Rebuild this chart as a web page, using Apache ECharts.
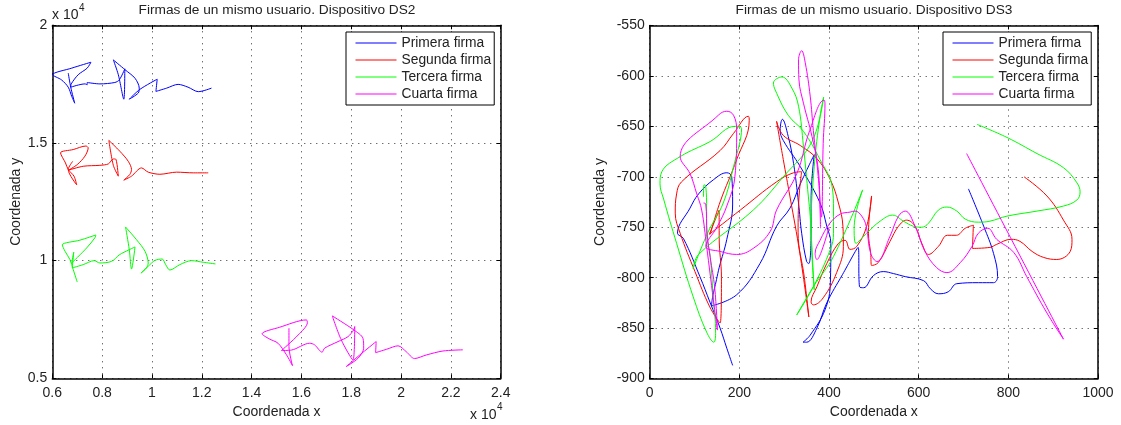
<!DOCTYPE html>
<html><head><meta charset="utf-8">
<style>html,body{margin:0;padding:0;background:#fff}#c{width:1121px;height:425px}</style>
<script src="https://cdn.jsdelivr.net/npm/echarts@6/dist/echarts.min.js"></script>
</head><body><div id="c"></div>
<script>
const seriesNames=['Primera firma','Segunda firma','Tercera firma','Cuarta firma'];
const seriesColors=['#0000ff','#ff0000','#00ff00','#ff00ff'];
const ds2Title='Firmas de un mismo usuario. Dispositivo DS2';
const ds3Title='Firmas de un mismo usuario. Dispositivo DS3';
const ds2Primera=[[.664,1.797],[.674,1.737],[.69,1.669],[.678,1.698],[.664,1.737],[.637,1.768],[.601,1.79],[.678,1.818],[.755,1.843],[.74,1.818],[.704,1.79],[.676,1.751],[.674,1.737],[.731,1.751],[.74,1.747],[.74,1.757],[.791,1.751],[.851,1.757],[.869,1.768],[.891,1.815],[.887,1.686],[.865,1.79],[.845,1.853],[.891,1.812],[.932,1.775],[.949,1.733],[.945,1.712],[.909,1.686],[.952,1.728],[1.021,1.771],[1.016,1.719],[1.059,1.733],[1.105,1.749],[1.145,1.737],[1.186,1.718],[1.239,1.733]];
const ds2Segunda=[[.682,1.422],[.664,1.387],[.698,1.322],[.687,1.359],[.664,1.387],[.653,1.415],[.633,1.458],[.684,1.472],[.735,1.487],[.744,1.479],[.731,1.444],[.70,1.408],[.664,1.384],[.724,1.401],[.791,1.405],[.825,1.411],[.845,1.432],[.854,1.432],[.865,1.359],[.845,1.405],[.827,1.511],[.871,1.465],[.905,1.422],[.918,1.387],[.911,1.366],[.887,1.342],[.918,1.359],[.958,1.394],[.985,1.376],[1.032,1.367],[1.099,1.376],[1.166,1.373],[1.226,1.373]];
const ds2Tercera=[[.70,.909],[.684,.962],[.671,1.004],[.651,1.04],[.64,1.067],[.711,1.087],[.775,1.109],[.771,1.097],[.738,1.054],[.678,.99],[.686,1.036],[.68,.969],[.724,.983],[.768,1.0],[.791,.99],[.838,.997],[.871,1.026],[.932,1.058],[.918,.964],[.909,1.047],[.894,1.143],[.938,1.089],[.972,1.04],[.985,.99],[.978,.969],[.956,.947],[.985,.976],[1.012,1.001],[1.041,1.007],[1.055,.983],[1.072,.96],[1.112,.983],[1.159,1.0],[1.206,.993],[1.255,.986]];
const ds2Cuarta=[[1.55,.713],[1.55,.635],[1.564,.554],[1.54,.6],[1.506,.649],[1.47,.668],[1.442,.689],[1.513,.717],[1.62,.748],[1.624,.737],[1.587,.684],[1.52,.618],[1.56,.62],[1.633,.649],[1.653,.642],[1.683,.611],[1.693,.628],[1.747,.656],[1.787,.677],[1.81,.706],[1.814,.72],[1.807,.578],[1.76,.663],[1.724,.765],[1.81,.706],[1.847,.67],[1.85,.628],[1.827,.585],[1.78,.55],[1.834,.599],[1.90,.656],[1.898,.609],[1.941,.623],[1.988,.638],[2.021,.613],[2.054,.584],[2.101,.599],[2.168,.616],[2.248,.621]];
const ds3Primera=[[185,-887],[172,-870],[157,-850],[135,-825],[112,-799],[75,-761],[62,-756],[90,-731],[109,-717],[142,-703],[172,-696],[183,-700],[185,-727],[172,-762],[155,-790],[149,-802],[140,-820],[138,-828],[194,-817],[246,-786],[283,-749],[313,-731],[336,-707],[367,-678],[360,-722],[360,-756],[355,-786],[350,-784],[339,-756],[332,-726],[321,-687],[309,-660],[296,-643],[291,-654],[298,-664],[336,-690],[380,-726],[395,-749],[404,-766],[403,-805],[391,-832],[358,-857],[342,-864],[350,-864],[373,-850],[395,-825],[430,-797],[465,-770],[468,-809],[477,-810],[499,-798],[521,-794],[544,-796],[570,-799],[611,-803],[626,-811],[644,-816],[666,-814],[685,-806],[733,-805],[767,-805],[776,-799],[767,-776],[745,-749],[711,-712]];
const ds3Segunda=[[835,-700],[886,-719],[923,-743],[942,-762],[938,-774],[908,-782],[879,-780],[853,-774],[826,-764],[806,-762],[774,-767],[759,-770],[720,-771],[722,-748],[704,-751],[684,-758],[664,-758],[644,-769],[622,-777],[607,-766],[592,-749],[573,-743],[555,-749],[536,-764],[510,-785],[495,-788],[493,-776],[488,-756],[495,-719],[484,-749],[462,-769],[447,-772],[436,-763],[421,-766],[395,-786],[373,-809],[360,-824],[365,-827],[387,-820],[417,-795],[432,-769],[431,-749],[421,-726],[403,-703],[373,-682],[336,-669],[298,-659],[283,-645],[298,-683],[313,-720],[335,-776],[355,-839],[345,-800],[331,-755],[333,-720],[339,-695],[321,-696],[283,-705],[202,-733],[133,-757],[155,-733],[155,-760],[160,-800],[157,-845],[134,-829],[101,-794],[68,-756],[57,-736],[60,-717],[71,-705],[157,-674],[187,-657],[220,-640],[222,-644],[194,-683],[157,-725],[135,-757]];
const ds3Tercera=[[730,-648],[797,-661],[864,-677],[923,-691],[953,-706],[960,-715],[953,-723],[923,-729],[864,-734],[797,-739],[759,-744],[733,-745],[704,-742],[685,-734],[663,-730],[644,-733],[622,-746],[607,-750],[588,-749],[566,-744],[542,-738],[514,-744],[484,-756],[460,-766],[456,-751],[475,-713],[410,-779],[365,-809],[328,-837],[365,-809],[403,-772],[410,-756],[410,-733],[407,-710],[380,-683],[343,-655],[309,-639],[280,-614],[276,-607],[295,-601],[317,-612],[332,-630],[343,-670],[354,-720],[358,-739],[364,-789],[367,-812],[360,-750],[367,-690],[380,-640],[388,-621],[362,-665],[298,-700],[231,-733],[109,-777],[97,-791],[130,-755],[164,-726],[187,-690],[205,-652],[190,-650],[135,-665],[68,-680],[27,-695],[23,-707],[31,-722],[60,-766],[97,-819],[127,-854],[143,-864],[147,-854],[142,-822],[135,-779],[127,-756],[127,-733],[125,-709],[121,-708],[120,-720]];
const ds3Cuarta=[[707,-677],[923,-861],[886,-835],[841,-799],[812,-775],[774,-762],[754,-751],[733,-756],[719,-769],[693,-785],[663,-795],[640,-790],[614,-774],[592,-749],[570,-734],[555,-739],[536,-759],[507,-784],[493,-776],[483,-749],[473,-739],[458,-734],[447,-735],[425,-737],[402,-746],[380,-763],[369,-776],[373,-782],[384,-773],[400,-750],['-','-'],[381,-751],[380,-733],[376,-693],[362,-660],[343,-627],[333,-604],[332,-584],[339,-575],[347,-587],[358,-620],[365,-654],[376,-700],[383,-740],[387,-667],[391,-627],[389,-624],[357,-654],[328,-697],[283,-733],[269,-754],[231,-771],[194,-777],[157,-774],[125,-769],[150,-750],[172,-729],[190,-700],[194,-654],[187,-639],[172,-635],[153,-639],[68,-680],[90,-697],[105,-717],[116,-733],[127,-769],[142,-822],[151,-852],[145,-810],[135,-780],[128,-756],[125,-727],[120,-726]];
const ds2Data=[ds2Primera,ds2Segunda,ds2Tercera,ds2Cuarta];
const ds3Data=[ds3Primera,ds3Segunda,ds3Tercera,ds3Cuarta];
const font='"Liberation Sans",Arial,sans-serif';
const tick={color:'#222',fontFamily:font,fontSize:14};
function mkX(gi,min,max,interval,name){return [
 {type:'value',gridIndex:gi,min,max,interval,name,nameLocation:'middle',nameGap:24,nameTextStyle:{color:'#222',fontFamily:font,fontSize:14},
  axisLine:{show:true,onZero:false,lineStyle:{color:'#000',width:1.5}},axisTick:{inside:true,length:4,lineStyle:{color:'#000',width:1}},
  axisLabel:{...tick,margin:8,showMinLabel:true,showMaxLabel:true,formatter:v=>String(+v.toFixed(2))},
  splitLine:{show:true,lineStyle:{color:'#333',width:1,type:[1,5]}}},
 {type:'value',gridIndex:gi,position:'top',min,max,interval,axisLine:{show:true,onZero:false,lineStyle:{color:'#000',width:1.5}},axisTick:{inside:true,length:4,lineStyle:{color:'#000'}},axisLabel:{show:false},splitLine:{show:false}}
];}
function mkY(gi,min,max,interval,name,gap){return [
 {type:'value',gridIndex:gi,min,max,interval,name,nameLocation:'middle',nameGap:gap,nameRotate:90,nameTextStyle:{color:'#222',fontFamily:font,fontSize:14},
  axisLine:{show:true,onZero:false,lineStyle:{color:'#000',width:1.5}},axisTick:{inside:true,length:4,lineStyle:{color:'#000'}},
  axisLabel:{...tick,margin:5,padding:[3,0,0,0],showMinLabel:true,showMaxLabel:true,formatter:v=>String(+v.toFixed(2))},
  splitLine:{show:true,lineStyle:{color:'#333',width:1,type:[1,5]}}},
 {type:'value',gridIndex:gi,position:'right',min,max,interval,axisLine:{show:true,onZero:false,lineStyle:{color:'#000',width:1.5}},axisTick:{inside:true,length:4,lineStyle:{color:'#000'}},axisLabel:{show:false},splitLine:{show:false}}
];}
function mkSeries(data,xi,yi,smooth){return data.map((d,i)=>({name:seriesNames[i],type:'line',xAxisIndex:xi,yAxisIndex:yi,data:d,showSymbol:false,symbol:'none',smooth,connectNulls:false,animation:false,clip:true,lineStyle:{color:seriesColors[i],width:1},itemStyle:{color:seriesColors[i]}}));}
function mkLegend(left){return {show:true,orient:'vertical',left,top:32,padding:[4,3,4,9],itemWidth:41,itemHeight:14,itemGap:3,align:'left',backgroundColor:'#fff',borderColor:'#000',borderWidth:1,borderRadius:0,selectedMode:false,data:seriesNames,itemStyle:{opacity:0},lineStyle:{width:1},textStyle:{color:'#222',fontFamily:font,fontSize:13.8}};}
const option={animation:false,backgroundColor:'#fff',
 title:[
  {text:ds2Title,left:277,top:3,padding:0,textAlign:'center',textStyle:{color:'#222',fontFamily:font,fontSize:13.7,fontWeight:'normal'}},
  {text:ds3Title,left:874,top:3,padding:0,textAlign:'center',textStyle:{color:'#222',fontFamily:font,fontSize:13.7,fontWeight:'normal'}}
 ],
 legend:[mkLegend(346),mkLegend(943)],
 grid:[{left:52.3,right:620.3,top:25.3,bottom:46.7,outerBoundsMode:'none'},{left:649.7,right:23,top:25.5,bottom:46.5,outerBoundsMode:'none'}],
 xAxis:[...mkX(0,.6,2.4,.2,'Coordenada x'),...mkX(1,0,1000,200,'Coordenada x')],
 yAxis:[...mkY(0,.5,2,.5,'Coordenada y',29),...mkY(1,-900,-550,50,'Coordenada y',43)],
 series:[...mkSeries(ds2Data,0,0,.3),...mkSeries(ds3Data,2,2,.4)],
 graphic:[
  {type:'text',left:52,top:8,style:{text:'x 10',fill:'#222',font:'14px '+font}},
  {type:'text',left:79,top:3,style:{text:'4',fill:'#222',font:'10px '+font}},
  {type:'text',left:470,top:408,style:{text:'x 10',fill:'#222',font:'14px '+font}},
  {type:'text',left:497,top:402,style:{text:'4',fill:'#222',font:'10px '+font}}
 ]
};
const chart=echarts.init(document.getElementById('c'),null,{renderer:'canvas'});
chart.setOption(option);
</script></body></html>
